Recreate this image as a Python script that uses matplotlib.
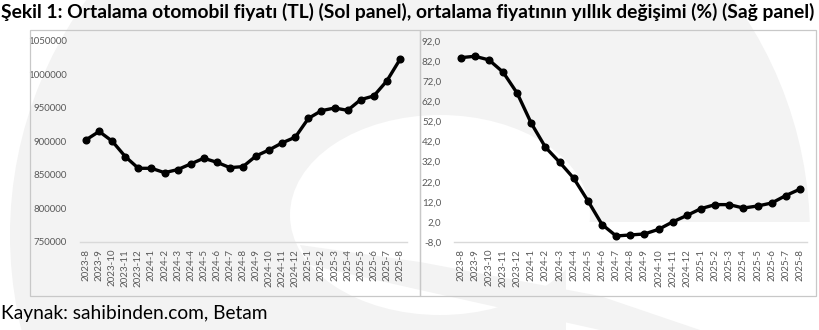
import matplotlib
matplotlib.use("Agg")
import matplotlib.pyplot as plt
from matplotlib.patches import Rectangle, Ellipse, Circle, Polygon
from matplotlib.ticker import FuncFormatter

months = ["2023-8", "2023-9", "2023-10", "2023-11", "2023-12",
          "2024-1", "2024-2", "2024-3", "2024-4", "2024-5", "2024-6",
          "2024-7", "2024-8", "2024-9", "2024-10", "2024-11", "2024-12",
          "2025-1", "2025-2", "2025-3", "2025-4", "2025-5", "2025-6",
          "2025-7", "2025-8"]

# average car price (TL)
avg_price = [902500, 915000, 900500, 877500, 860000,
             860000, 853500, 858000, 866500, 875000, 869000,
             861000, 862500, 878500, 887500, 898000, 906500,
             934500, 946000, 950000, 946500, 962500, 968000,
             990500, 1022500]

# annual change of the average price (%)
yoy_change = [83.7, 84.4, 82.6, 76.5, 66.0,
              51.0, 39.1, 31.7, 23.7, 12.5, 0.7,
              -5.0, -4.5, -4.0, -1.7, 2.0, 5.2,
              8.6, 10.6, 10.6, 8.9, 9.9, 11.4,
              15.1, 18.3]

W, H = 820, 330
fig = plt.figure(figsize=(W / 100, H / 100), dpi=100)
fig.patch.set_facecolor("white")
plt.rcParams["font.family"] = ["Lato", "DejaVu Sans"]

# faint logo shapes in the background (pixel coords, y down)
bg = fig.add_axes([0, 0, 1, 1], zorder=-10)
bg.set_xlim(0, W)
bg.set_ylim(H, 0)
bg.axis("off")
grey = "#f3f3f3"
bg.add_patch(Circle((410, 235), 400, color=grey, lw=0))
bg.add_patch(Ellipse((440, 215), 300, 200, color="white", lw=0))
bg.add_patch(Rectangle((566, 222), 260, 120, color="white", lw=0))
bg.add_patch(Polygon([(300, 245), (420, 262), (600, 296), (700, 330),
                      (600, 330), (420, 290), (310, 265)],
                     closed=True, color=grey, lw=0))

# panel frames
for x0, x1 in [(30, 420), (420, 816)]:
    fig.patches.append(Rectangle((x0 / W, 1 - 296 / H), (x1 - x0) / W, 266 / H,
                                 transform=fig.transFigure, fill=False,
                                 edgecolor="#c8c8c8", lw=0.9))

tick_color = "#595959"


def style(ax):
    ax.set_facecolor("none")
    for s in ["top", "right", "left"]:
        ax.spines[s].set_visible(False)
    ax.spines["bottom"].set_color("#d9d9d9")
    ax.spines["bottom"].set_linewidth(1.0)
    ax.tick_params(axis="both", length=0, labelsize=7, colors=tick_color)
    ax.tick_params(axis="x", rotation=90, pad=5)
    ax.tick_params(axis="y", pad=9)
    ax.set_xticks(range(len(months)))
    ax.set_xticklabels(months)
    ax.set_xlim(-0.5, len(months) - 0.5)


x = range(len(months))

ax1 = fig.add_axes([79.5 / W, 1 - 242 / H, 327 / W, 201 / H])
style(ax1)
ax1.plot(x, avg_price, color="black", lw=2.4, marker="o", ms=4.8, clip_on=False)
ax1.set_ylim(750000, 1050000)
ax1.set_yticks(range(750000, 1050001, 50000))
ax1.yaxis.set_major_formatter(FuncFormatter(lambda v, p: f"{v:.0f}"))

ax2 = fig.add_axes([453.6 / W, 1 - 242 / H, 353.4 / W, 201 / H])
style(ax2)
ax2.plot(x, yoy_change, color="black", lw=2.4, marker="o", ms=4.8, clip_on=False)
ax2.set_ylim(-8, 92)
ax2.set_yticks([v - 8 for v in range(0, 101, 10)])
ax2.yaxis.set_major_formatter(FuncFormatter(lambda v, p: f"{v:.1f}".replace(".", ",")))

fig.text(1 / W, 1 - 12 / H,
         "Şekil 1: Ortalama otomobil fiyatı (TL) (Sol panel), ortalama fiyatının yıllık değişimi (%) (Sağ panel)",
         fontsize=13.9, fontweight="bold", va="center", ha="left", color="black")
fig.text(1 / W, 1 - 313 / H, "Kaynak: sahibinden.com, Betam",
         fontsize=13.8, va="center", ha="left", color="black")

fig.savefig("out.png", dpi=100)
